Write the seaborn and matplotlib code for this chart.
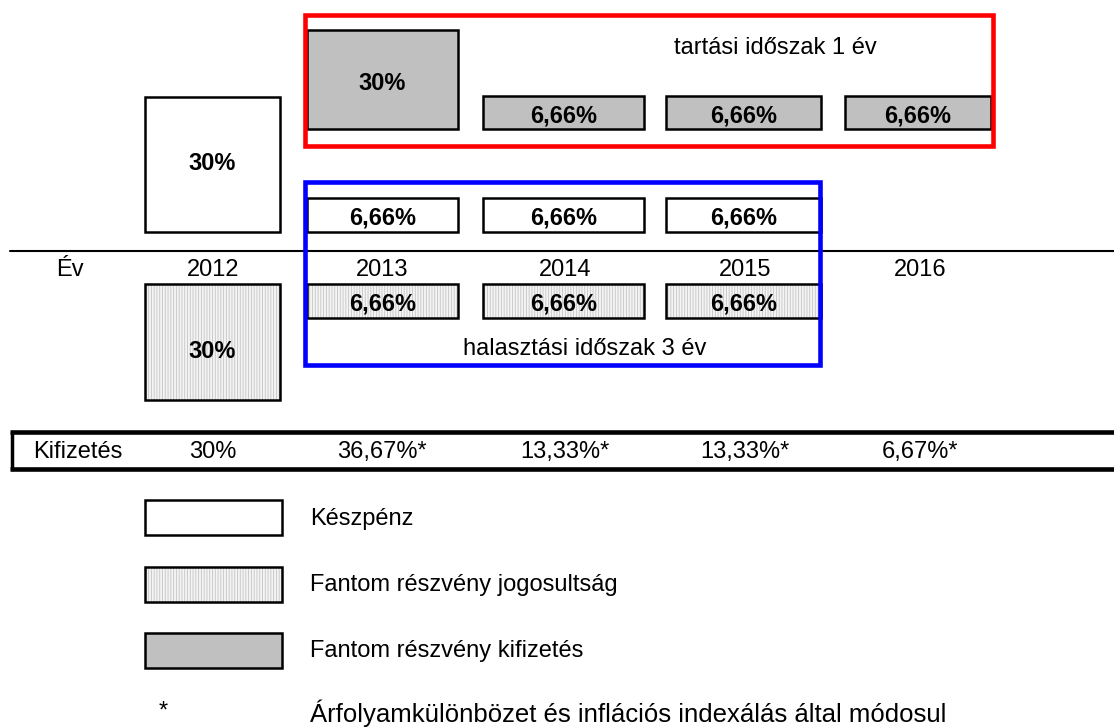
import matplotlib
matplotlib.use("Agg")
import matplotlib.pyplot as plt
import seaborn as sns

# ------------------------------------------------------------------
# data
# ------------------------------------------------------------------
years = ["2012", "2013", "2014", "2015", "2016"]

cash_years = ["2012", "2013", "2014", "2015"]          # Készpénz
cash_vals = ["30%", "6,66%", "6,66%", "6,66%"]

payout_years = ["2013", "2014", "2015", "2016"]        # Fantom részvény kifizetés
payout_vals = ["30%", "6,66%", "6,66%", "6,66%"]

entitled_years = ["2012", "2013", "2014", "2015"]      # Fantom részvény jogosultság
entitled_vals = ["30%", "6,66%", "6,66%", "6,66%"]

kifizetes_vals = ["30%", "36,67%*", "13,33%*", "13,33%*", "6,67%*"]

legend_labels = ["Készpénz", "Fantom részvény jogosultság", "Fantom részvény kifizetés"]
note_text = "Árfolyamkülönbözet és inflációs indexálás által módosul"
hold_text = "tartási időszak 1 év"
defer_text = "halasztási időszak 3 év"

# ------------------------------------------------------------------
# layout (pixel space of the 1114x728 canvas)
# ------------------------------------------------------------------
col_left = {"2012": 145, "2013": 307, "2014": 483, "2015": 666, "2016": 845}
col_right = {"2012": 280, "2013": 458, "2014": 644, "2015": 821, "2016": 991}
col_mid = {"2012": 213, "2013": 382, "2014": 565, "2015": 745, "2016": 920}

# (top, bottom) of big box and small box for each row
rows = {
    "payout": ((30, 129), (96, 129)),
    "cash": ((97, 232), (198, 232)),
    "entitled": ((284, 400), (284, 318)),
}
text_y = {"payout": (83, 116), "cash": (164, 218), "entitled": (351, 304)}

GRAY = "#c0c0c0"
DOT_FACE = "#f4f4f4"
DOT_HATCH = "#c4c4c4"

sns.set_theme(style="white")
plt.rcParams["font.family"] = ["Liberation Sans", "DejaVu Sans"]
plt.rcParams["text.color"] = "black"
plt.rcParams["hatch.linewidth"] = 0.6

fig = plt.figure(figsize=(11.14, 7.28), dpi=100)
ax = fig.add_axes([0, 0, 1, 1])
ax.set_xlim(0, 1114)
ax.set_ylim(728, 0)
ax.axis("off")

FS = 17
EDGE_LW = 1.8


def box(x0, x1, y0, y1, kind):
    w, h = x1 - x0, y1 - y0
    if kind == "cash":
        ax.bar(x0, h, width=w, bottom=y0, align="edge", color="white",
               edgecolor="black", linewidth=EDGE_LW, zorder=2)
    elif kind == "payout":
        ax.bar(x0, h, width=w, bottom=y0, align="edge", color=GRAY,
               edgecolor="black", linewidth=EDGE_LW, zorder=2)
    else:
        ax.bar(x0, h, width=w, bottom=y0, align="edge", color=DOT_FACE,
               edgecolor=DOT_HATCH, hatch="||||||", linewidth=0, zorder=2)
        ax.bar(x0, h, width=w, bottom=y0, align="edge", fill=False,
               edgecolor="black", linewidth=EDGE_LW, zorder=3)


for kind, yrs, vals in [("payout", payout_years, payout_vals),
                        ("cash", cash_years, cash_vals),
                        ("entitled", entitled_years, entitled_vals)]:
    (bt, bb), (st, sb) = rows[kind]
    ty_big, ty_small = text_y[kind]
    for i, (yr, v) in enumerate(zip(yrs, vals)):
        if i == 0:
            box(col_left[yr], col_right[yr], bt, bb, kind)
            ty = ty_big
        else:
            box(col_left[yr], col_right[yr], st, sb, kind)
            ty = ty_small
        ax.text((col_left[yr] + col_right[yr]) / 2, ty, v, ha="center",
                va="center", fontsize=FS, fontweight="bold", zorder=4)

# frames for the holding / deferral periods
ax.bar(305, 146 - 15, width=993 - 305, bottom=15, align="edge", fill=False,
       edgecolor="#ff0000", linewidth=3.3, zorder=5)
ax.bar(305, 365 - 182, width=820 - 305, bottom=182, align="edge", fill=False,
       edgecolor="#0000ff", linewidth=3.3, zorder=5)
ax.text(775, 48, hold_text, ha="center", va="center", fontsize=FS)
ax.text(585, 349, defer_text, ha="center", va="center", fontsize=FS)

# time axis
ax.plot([10, 1114], [251, 251], color="black", linewidth=1.5, zorder=1)
ax.text(70, 270, "Év", ha="center", va="center", fontsize=FS)
for yr in years:
    ax.text(col_mid[yr], 270, yr, ha="center", va="center", fontsize=FS)

# payout row
ax.plot([10, 1114], [432, 432], color="black", linewidth=3.3, solid_capstyle="butt")
ax.plot([10, 1114], [469, 469], color="black", linewidth=3.3, solid_capstyle="butt")
ax.plot([11.5, 11.5], [432, 469], color="black", linewidth=2.5)
ax.text(78, 452, "Kifizetés", ha="center", va="center", fontsize=FS)
for yr, v in zip(years, kifizetes_vals):
    ax.text(col_mid[yr], 452, v, ha="center", va="center", fontsize=FS)

# legend
legend_rows = [(500, 535, "cash"), (567, 602, "entitled"), (633, 668, "payout")]
for (y0, y1, kind), lab in zip(legend_rows, legend_labels):
    box(145, 282, y0, y1, kind)
    ax.text(310, (y0 + y1) / 2 + 1, lab, ha="left", va="center", fontsize=FS)
ax.text(163, 712, "*", ha="center", va="center", fontsize=FS)
ax.text(310, 713, note_text, ha="left", va="center", fontsize=18.5)

fig.savefig("out.png", dpi=100)
